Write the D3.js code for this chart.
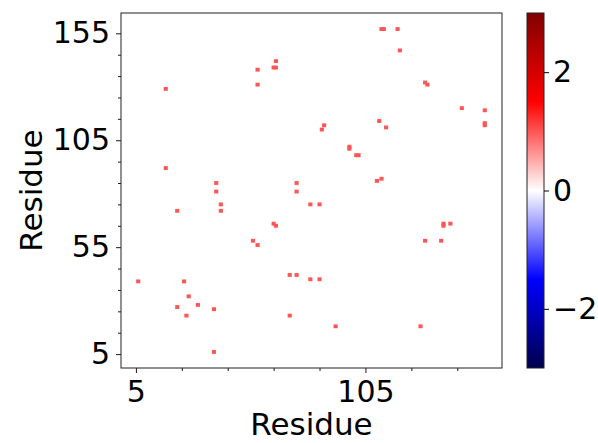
<!DOCTYPE html>
<html>
<head>
<meta charset="utf-8">
<script src="https://cdn.jsdelivr.net/npm/d3@7"></script>
<style>
  body { margin: 0; background: #fff; }
  text { font-family: "DejaVu Sans", sans-serif; }
</style>
</head>
<body>
<div id="chart"></div>
<script>
// contact pairs (upper triangle), the map is drawn symmetric
const resA = [6, 18, 18, 23, 23, 26, 28, 40, 40, 42, 42, 56, 58, 58, 65, 65, 66, 66, 75, 75, 86, 87, 98, 98, 111, 112, 113, 119, 120, 131];
const resB = [39, 92, 129, 27, 72, 39, 32, 81, 85, 72, 75, 58, 131, 138, 66, 139, 139, 142, 81, 85, 110, 112, 101, 102, 114, 157, 157, 157, 147, 132];
const contactValue = resA.map(() => 1);
const xTicks = [5, 105];
const yTicks = [5, 55, 105, 155];
const cbarTicks = [-2, 0, 2];

(function () {
    let width = 598, height = 443;
    let margin = {left: 121, top: 13, right: 502, bottom: 368};
    let svg = d3.select("#chart")
        .append("svg")
        .attr("width", width)
        .attr("height", height);

    let x = d3.scaleLinear().domain([-1.5, 164.5]).range([margin.left, margin.right]);
    let y = d3.scaleLinear().domain([-1.5, 164.5]).range([margin.bottom, margin.top]);

    // seismic colormap
    let color = d3.scaleLinear()
        .domain([-3, -1.5, 0, 1.5, 3])
        .range(["#00004d", "#0000ff", "#ffffff", "#ff0000", "#800000"]);

    let cells = [];
    resA.forEach((a, i) => {
        cells.push({i: a, j: resB[i], v: contactValue[i]});
        cells.push({i: resB[i], j: a, v: contactValue[i]});
    });

    // each contact shows up about two residues wide in the picture
    let half = 0.9;
    svg.append("g")
        .selectAll("rect")
        .data(cells)
        .enter()
        .append("rect")
        .attr("x", d => x(d.i - half))
        .attr("y", d => y(d.j + half))
        .attr("width", d => x(d.i + half) - x(d.i - half))
        .attr("height", d => y(d.j - half) - y(d.j + half))
        .attr("fill", d => color(d.v));

    // axes
    let xMinor = d3.range(25, 165, 20).filter(v => !xTicks.includes(v));
    let yMinor = d3.range(15, 165, 10).filter(v => !yTicks.includes(v));

    let xg = svg.append("g")
        .attr("transform", `translate(0,${margin.bottom})`)
        .call(d3.axisBottom(x).tickValues(xTicks).tickSize(5).tickPadding(6).tickFormat(d3.format("d")));
    svg.append("g")
        .attr("transform", `translate(0,${margin.bottom})`)
        .call(d3.axisBottom(x).tickValues(xMinor).tickSize(3).tickFormat(""));
    let yg = svg.append("g")
        .attr("transform", `translate(${margin.left},0)`)
        .call(d3.axisLeft(y).tickValues(yTicks).tickSize(5).tickPadding(6).tickFormat(d3.format("d")));
    svg.append("g")
        .attr("transform", `translate(${margin.left},0)`)
        .call(d3.axisLeft(y).tickValues(yMinor).tickSize(3).tickFormat(""));

    svg.selectAll(".domain").remove();
    svg.selectAll(".tick line").attr("stroke", "#000").attr("stroke-width", 0.9);
    svg.selectAll(".tick text").attr("font-size", "30px").attr("fill", "#000")
        .attr("font-family", "DejaVu Sans");
    xg.selectAll(".tick text").attr("dy", "0.75em");

    svg.append("rect")
        .attr("x", margin.left)
        .attr("y", margin.top)
        .attr("width", margin.right - margin.left)
        .attr("height", margin.bottom - margin.top)
        .attr("fill", "none")
        .attr("stroke", "#222")
        .attr("stroke-width", 1);

    svg.append("text")
        .attr("x", (margin.left + margin.right) / 2)
        .attr("y", 435)
        .attr("text-anchor", "middle")
        .attr("font-size", "31px")
        .text("Residue");
    svg.append("text")
        .attr("transform", `translate(42,${(margin.top + margin.bottom) / 2}) rotate(-90)`)
        .attr("text-anchor", "middle")
        .attr("font-size", "31px")
        .text("Residue");

    // colorbar
    let cb = {x: 527, w: 17};
    let cy = d3.scaleLinear().domain([-3, 3]).range([margin.bottom, margin.top]);
    let grad = svg.append("defs").append("linearGradient")
        .attr("id", "seismic")
        .attr("x1", 0).attr("y1", 1).attr("x2", 0).attr("y2", 0);
    grad.selectAll("stop")
        .data(color.domain())
        .enter()
        .append("stop")
        .attr("offset", d => (d + 3) / 6)
        .attr("stop-color", d => color(d));
    svg.append("rect")
        .attr("x", cb.x)
        .attr("y", margin.top)
        .attr("width", cb.w)
        .attr("height", margin.bottom - margin.top)
        .attr("fill", "url(#seismic)")
        .attr("stroke", "#222")
        .attr("stroke-width", 1);
    let cg = svg.append("g")
        .attr("transform", `translate(${cb.x + cb.w},0)`)
        .call(d3.axisRight(cy).tickValues(cbarTicks).tickSize(5).tickPadding(4)
            .tickFormat(d => d < 0 ? "\u2212" + Math.abs(d) : d));
    cg.select(".domain").remove();
    cg.selectAll(".tick line").attr("stroke", "#000");
    cg.selectAll(".tick text").attr("font-size", "30px").attr("fill", "#000")
        .attr("font-family", "DejaVu Sans");
})()
</script>
</body>
</html>
